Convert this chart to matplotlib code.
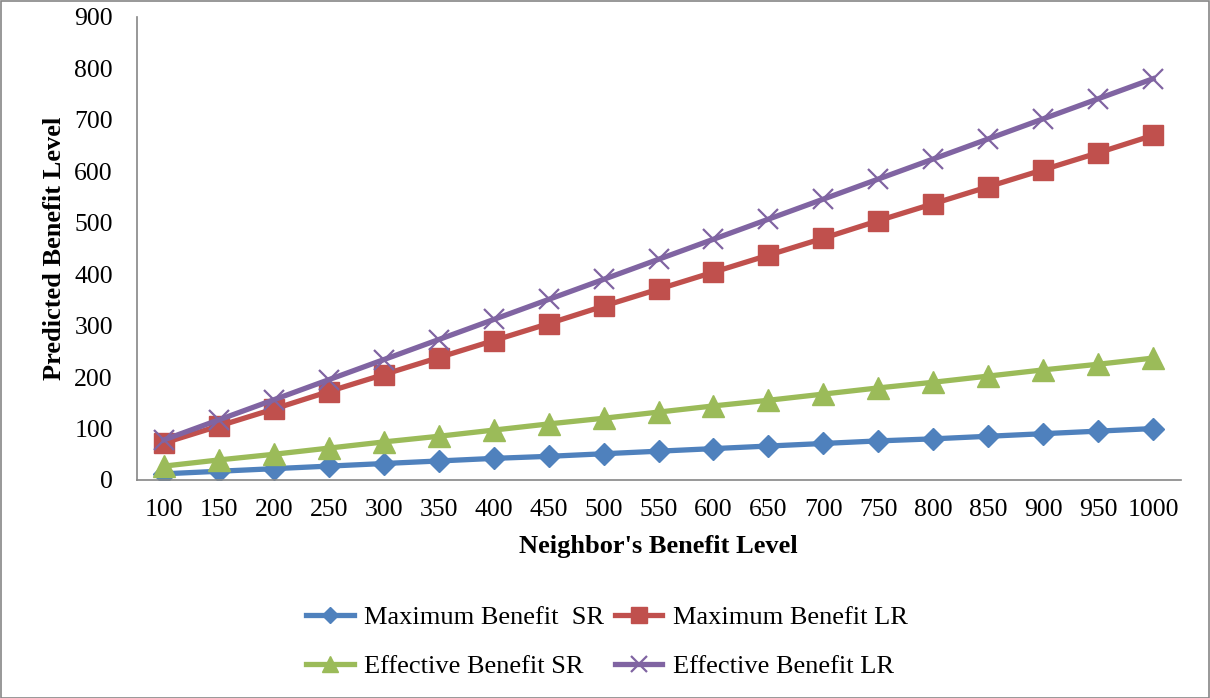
import matplotlib
matplotlib.use("Agg")
import matplotlib.pyplot as plt
from matplotlib.patches import Rectangle

categories = [str(v) for v in range(100, 1001, 50)]
max_sr = [12, 17, 22, 27, 32, 37, 42, 46, 51, 56, 61, 66, 71, 76, 80, 85, 90, 95, 100]
max_lr = [72, 105, 138, 172, 205, 238, 271, 304, 338, 371, 404, 437, 470, 504, 537, 570, 603, 636, 670]
eff_sr = [27, 39, 50, 62, 74, 85, 97, 109, 120, 132, 144, 155, 167, 179, 190, 202, 214, 225, 237]
eff_lr = [78, 117, 156, 195, 234, 273, 312, 351, 390, 429, 468, 507, 546, 585, 624, 663, 702, 741, 780]
y_ticks = [0, 100, 200, 300, 400, 500, 600, 700, 800, 900]

plt.rcParams['font.family'] = ['Liberation Serif', 'DejaVu Serif']

W, H = 1210, 698
fig = plt.figure(figsize=(W / 100, H / 100), dpi=100)
ax = fig.add_axes([136.5 / W, 1 - 480 / H, (1180.5 - 136.5) / W, (480 - 17) / H])

x = list(range(len(categories)))
lw = 3.8
h1, = ax.plot(x, max_sr, color='#4F81BD', lw=lw, marker='D', ms=11.5, label='Maximum Benefit  SR')
h2, = ax.plot(x, max_lr, color='#C0504D', lw=lw, marker='s', ms=14.5, label='Maximum Benefit LR')
h3, = ax.plot(x, eff_sr, color='#9BBB59', lw=lw, marker='^', ms=15.5, label='Effective Benefit SR')
h4, = ax.plot(x, eff_lr, color='#8064A2', lw=lw, marker='x', ms=14.5, mew=1.6, label='Effective Benefit LR')

ax.set_xlim(-0.5, len(categories) - 0.5)
ax.set_ylim(0, 900)
ax.set_xticks(x)
ax.set_xticklabels(categories)
ax.set_yticks(y_ticks)
ax.tick_params(axis='both', length=0, labelsize=18.5)
ax.tick_params(axis='x', pad=14)
ax.tick_params(axis='y', pad=17)
for s in ['top', 'right']:
    ax.spines[s].set_visible(False)
for s in ['left', 'bottom']:
    ax.spines[s].set_color('#868686')
    ax.spines[s].set_linewidth(1.2)

ax.set_xlabel("Neighbor's Benefit Level", fontsize=19, fontweight='bold', labelpad=10)
ax.set_ylabel("Predicted Benefit Level", fontsize=19, fontweight='bold', labelpad=6)

fig.legend([h1, h3, h2, h4], [h.get_label() for h in (h1, h3, h2, h4)],
           loc='center', bbox_to_anchor=(607 / W, 1 - 642 / H), ncol=2,
           frameon=False, fontsize=19, handlelength=1.8, handletextpad=0.4,
           columnspacing=0.4, labelspacing=0.95, markerscale=0.75)

fig.patches.append(Rectangle((0.5 / W, 0.5 / H), 1 - 1.5 / W, 1 - 1.5 / H, transform=fig.transFigure,
                             fill=False, edgecolor='#868686', lw=1.2))

fig.savefig('out.png', dpi=100)
